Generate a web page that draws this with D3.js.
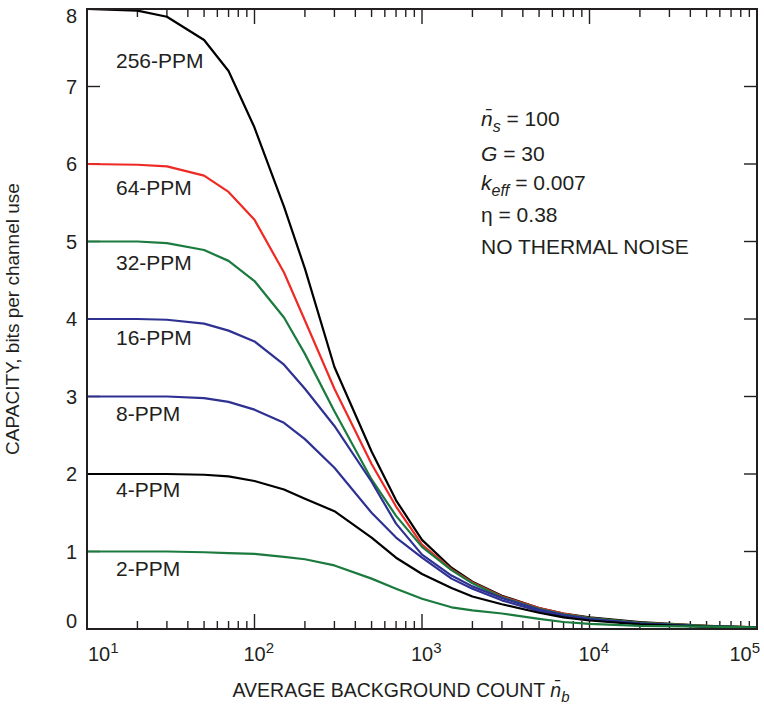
<!DOCTYPE html>
<html>
<head>
<meta charset="utf-8">
<script src="https://cdn.jsdelivr.net/npm/d3@7/dist/d3.min.js"></script>
<style>
  body { margin: 0; background: #fff; }
  text { font-family: "Liberation Sans", Arial, Helvetica, sans-serif; fill: #231f20; }
</style>
</head>
<body>
<div id="chart"></div>
<script>
'use strict';

// average background count (x axis)
const nb = [10, 20, 30, 50, 70, 100, 150, 200, 300, 500, 700, 1000, 1500, 2000, 3000, 5000, 7000, 10000, 20000, 50000, 100000];

// capacity, bits per channel use
const ppm256 = [8.0, 7.98, 7.9, 7.6, 7.2, 6.47, 5.45, 4.65, 3.38, 2.29, 1.66, 1.15, 0.79, 0.61, 0.43, 0.27, 0.2, 0.15, 0.09, 0.04, 0.02];
const ppm64 = [6.0, 5.99, 5.97, 5.85, 5.64, 5.28, 4.6, 3.98, 3.1, 2.13, 1.58, 1.09, 0.77, 0.6, 0.42, 0.27, 0.2, 0.14, 0.08, 0.04, 0.02];
const ppm32 = [5.0, 5.0, 4.98, 4.89, 4.75, 4.49, 4.02, 3.55, 2.81, 1.93, 1.46, 1.06, 0.76, 0.59, 0.41, 0.26, 0.19, 0.14, 0.08, 0.04, 0.02];
const ppm16 = [4.0, 4.0, 3.99, 3.94, 3.85, 3.71, 3.41, 3.1, 2.62, 1.9, 1.36, 0.96, 0.69, 0.55, 0.4, 0.25, 0.18, 0.13, 0.07, 0.03, 0.02];
const ppm8 = [3.0, 3.0, 3.0, 2.98, 2.93, 2.83, 2.66, 2.45, 2.08, 1.5, 1.18, 0.92, 0.65, 0.52, 0.37, 0.23, 0.17, 0.12, 0.07, 0.03, 0.02];
const ppm4 = [2.0, 2.0, 2.0, 1.99, 1.97, 1.91, 1.8, 1.68, 1.52, 1.18, 0.92, 0.71, 0.53, 0.42, 0.32, 0.21, 0.15, 0.11, 0.06, 0.03, 0.02];
const ppm2 = [1.0, 1.0, 1.0, 0.99, 0.98, 0.97, 0.93, 0.9, 0.82, 0.65, 0.52, 0.39, 0.28, 0.24, 0.2, 0.13, 0.09, 0.065, 0.04, 0.03, 0.02];

const seriesNames = ['256-PPM', '64-PPM', '32-PPM', '16-PPM', '8-PPM', '4-PPM', '2-PPM'];
const seriesValues = [ppm256, ppm64, ppm32, ppm16, ppm8, ppm4, ppm2];
// value at which each curve label sits
const labelAt = [7.24, 5.6, 4.63, 3.66, 2.68, 1.7, 0.68];

const yTicks = [0, 1, 2, 3, 4, 5, 6, 7, 8];
const xMajor = [10, 100, 1000, 10000, 100000];
const xExp = ['1', '2', '3', '4', '5'];

const colors = ['#000000', '#ee2a24', '#1b7a3e', '#2e3192', '#2e3192', '#000000', '#1b7a3e'];

const width = 764;
const height = 709;
const margin = { top: 9, right: 7, bottom: 80, left: 87 };

const svg = d3.select('#chart').append('svg')
  .attr('width', width)
  .attr('height', height);

const x = d3.scaleLog()
  .domain([10, 100000])
  .range([margin.left, width - margin.right]);

const y = d3.scaleLinear()
  .domain([0, 8])
  .range([height - margin.bottom, margin.top]);

const x0 = x.range()[0], x1 = x.range()[1];
const y0 = y.range()[0], y1 = y.range()[1];

// minor ticks for the log axis
const minor = [];
for (let d = 10; d < 100000; d *= 10) {
  for (let k = 2; k <= 9; k++) minor.push(d * k);
}

const axisColor = '#231f20';
const ticks = svg.append('g').attr('stroke', axisColor).attr('stroke-width', 1.4);

// bottom and top ticks (inward)
ticks.selectAll('.xmaj-b').data(xMajor.slice(1, -1)).enter().append('line')
  .attr('x1', d => x(d)).attr('x2', d => x(d))
  .attr('y1', y0).attr('y2', y0 - 15);
ticks.selectAll('.xmaj-t').data(xMajor.slice(1, -1)).enter().append('line')
  .attr('x1', d => x(d)).attr('x2', d => x(d))
  .attr('y1', y1).attr('y2', y1 + 15);
ticks.selectAll('.xmin-b').data(minor).enter().append('line')
  .attr('x1', d => x(d)).attr('x2', d => x(d))
  .attr('y1', y0).attr('y2', y0 - 8);
ticks.selectAll('.xmin-t').data(minor).enter().append('line')
  .attr('x1', d => x(d)).attr('x2', d => x(d))
  .attr('y1', y1).attr('y2', y1 + 8);

// left and right ticks
ticks.selectAll('.y-l').data(yTicks.slice(1, -1)).enter().append('line')
  .attr('x1', x0).attr('x2', x0 + 13)
  .attr('y1', d => y(d)).attr('y2', d => y(d));
ticks.selectAll('.y-r').data(yTicks.slice(1, -1)).enter().append('line')
  .attr('x1', x1).attr('x2', x1 - 13)
  .attr('y1', d => y(d)).attr('y2', d => y(d));

// curves
const line = d3.line()
  .x((d, i) => x(nb[i]))
  .y(d => y(d));

const plot = svg.append('g');
seriesValues.forEach(function(vals, i) {
  plot.append('path')
    .datum(vals)
    .attr('d', line)
    .attr('fill', 'none')
    .attr('stroke', colors[i])
    .attr('stroke-width', 2.2)
    .attr('stroke-linejoin', 'round');
});

// frame
svg.append('rect')
  .attr('x', x0).attr('y', y1)
  .attr('width', x1 - x0).attr('height', y0 - y1)
  .attr('fill', 'none')
  .attr('stroke', axisColor)
  .attr('stroke-width', 2);

// curve labels
svg.selectAll('.lbl').data(seriesNames).enter().append('text')
  .attr('x', 116)
  .attr('y', (d, i) => y(labelAt[i]))
  .attr('font-size', '21px')
  .text(d => d);

// y tick labels
svg.selectAll('.ylab').data(yTicks).enter().append('text')
  .attr('x', 77)
  .attr('y', d => y(d))
  .attr('dy', d => d === 8 ? '0.72em' : (d === 0 ? '-0.05em' : '0.36em'))
  .attr('text-anchor', 'end')
  .attr('font-size', '20px')
  .text(d => d);

// x tick labels 10^n
const xl = svg.selectAll('.xlab').data(xMajor).enter().append('text')
  .attr('x', (d, i) => i === 0 ? x(d) + 1 : (i === xMajor.length - 1 ? x(d) + 3 : x(d) - 11))
  .attr('y', 661)
  .attr('text-anchor', (d, i) => i === xMajor.length - 1 ? 'end' : 'start')
  .attr('font-size', '20px');
xl.append('tspan').text('10');
xl.append('tspan')
  .attr('dy', '-8')
  .attr('font-size', '15px')
  .text((d, i) => xExp[i]);

// axis titles
const xt = svg.append('text')
  .attr('x', 401)
  .attr('y', 697)
  .attr('text-anchor', 'middle')
  .attr('font-size', '19.5px');
xt.append('tspan').text('AVERAGE BACKGROUND COUNT ');
xt.append('tspan').attr('font-style', 'italic').text('n\u0304');
xt.append('tspan').attr('font-style', 'italic').attr('font-size', '15px').attr('dy', '5').text('b');

svg.append('text')
  .attr('transform', 'translate(18.5,' + ((y0 + y1) / 2) + ') rotate(-90)')
  .attr('text-anchor', 'middle')
  .attr('font-size', '19px')
  .text('CAPACITY, bits per channel use');

// parameter notes
const nx = 481;
const fs = '21px';
const n1 = svg.append('text').attr('x', nx).attr('y', 126).attr('font-size', fs);
n1.append('tspan').attr('font-style', 'italic').text('n\u0304');
n1.append('tspan').attr('font-style', 'italic').attr('font-size', '16px').attr('dy', '6').text('s');
n1.append('tspan').attr('dy', '-6').text(' = 100');

const n2 = svg.append('text').attr('x', nx).attr('y', 161).attr('font-size', fs);
n2.append('tspan').attr('font-style', 'italic').text('G');
n2.append('tspan').text(' = 30');

const n3 = svg.append('text').attr('x', nx).attr('y', 190).attr('font-size', fs);
n3.append('tspan').attr('font-style', 'italic').text('k');
n3.append('tspan').attr('font-style', 'italic').attr('font-size', '16px').attr('dy', '6').text('eff');
n3.append('tspan').attr('dy', '-6').text(' = 0.007');

svg.append('text').attr('x', nx).attr('y', 222).attr('font-size', fs).text('\u03b7 = 0.38');
svg.append('text').attr('x', nx).attr('y', 254).attr('font-size', fs).text('NO THERMAL NOISE');
</script>
</body>
</html>
